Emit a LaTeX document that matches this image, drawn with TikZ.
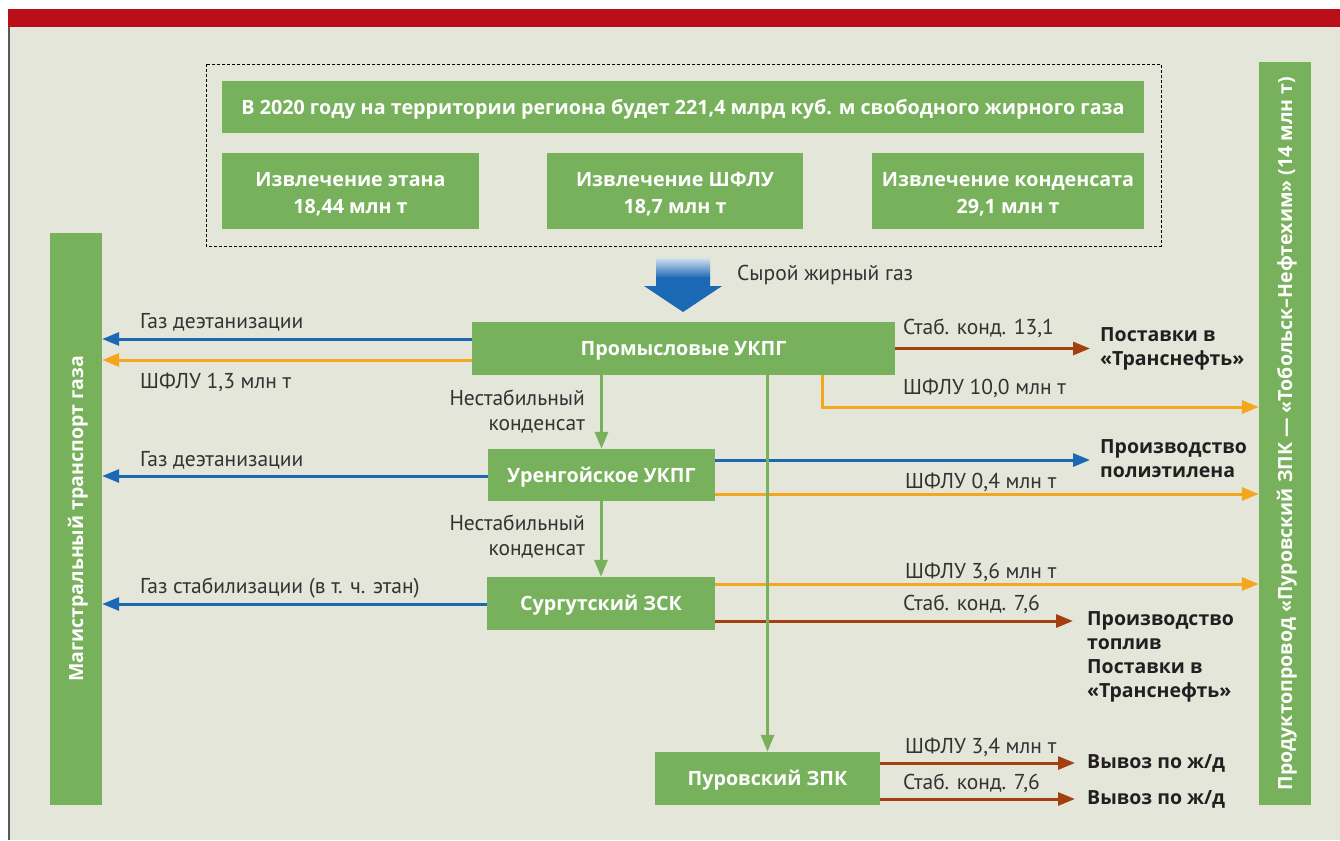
\documentclass[tikz,border=0pt]{standalone}
\usepackage{fontspec}
\setmainfont{Open Sans}
\newfontfamily\labfont{PT Sans}
\usetikzlibrary{arrows.meta}
\definecolor{panel}{HTML}{E3E6D8}
\definecolor{topred}{HTML}{BA0F19}
\definecolor{gbox}{HTML}{78B15B}
\definecolor{ablue}{HTML}{1B68B4}
\definecolor{aorange}{HTML}{F5A61C}
\definecolor{abrown}{HTML}{A2410F}
\definecolor{labtext}{HTML}{333333}
\definecolor{tgtext}{HTML}{231F20}
\newcommand{\dn}[1]{\raisebox{-9pt}[0pt][0pt]{#1}}
\begin{document}
\begin{tikzpicture}[x=1pt,y=-1pt,
 box/.style={fill=gbox,text=white,font=\bfseries\fontsize{19.7}{26.5}\selectfont,inner sep=0pt,align=center},
 single/.style={box,text height=16pt,text depth=2pt},
 bartext/.style={text=white,font=\bfseries\fontsize{19.5}{21}\selectfont,inner sep=0pt,text height=16pt,text depth=2pt},
 lab/.style={text=labtext,font=\labfont\fontsize{21.5}{25}\selectfont,inner sep=0pt},
 tgt/.style={text=tgtext,font=\bfseries\fontsize{19.5}{24}\selectfont,inner sep=0pt,align=left},
 fl/.style={line width=3pt,-{Triangle[length=17pt,width=13pt]}},
 bl/.style={fl,draw=ablue},
 ol/.style={fl,draw=aorange},
 brl/.style={fl,draw=abrown},
 gl/.style={fl,draw=gbox},
]
\fill[white] (0,0) rectangle (1340,840);
\useasboundingbox (0,0) rectangle (1340,840);
\fill[panel] (8,27) rectangle (1340,840);
\fill[topred] (8,9) rectangle (1340,27);
\draw[line width=2pt,black!65] (9,27) -- (9,840);

\draw[line width=0.8pt,dash pattern=on 3pt off 2pt] (206,64) rectangle (1161,246);
\node[single,minimum width=922,minimum height=52] (title) at (683,107)
  {В 2020 году на территории региона будет 221,4 млрд куб. м свободного жирного газа};
\node[box,minimum width=257,minimum height=76] (e1) at (350.5,191) {\dn{Извлечение этана}\\\dn{18,44 млн т}};
\node[box,minimum width=256,minimum height=76] (e2) at (675,191) {\dn{Извлечение ШФЛУ}\\\dn{18,7 млн т}};
\node[box,minimum width=272,minimum height=76] (e3) at (1008,191) {\dn{Извлечение конденсата}\\\dn{29,1 млн т}};

% big arrow
\shade[top color=ablue!20!white,bottom color=ablue] (656,258) rectangle (710,278);
\fill[ablue] (656,277.5) -- (710,277.5) -- (710,286) -- (722,286) -- (683,312) -- (644,286) -- (656,286) -- cycle;
\node[lab,anchor=base west] (raw) at (737,280) {Сырой жирный газ};

% bars
\node[fill=gbox,minimum width=52,minimum height=572,inner sep=0pt] (lbar) at (76,519) {};
\node[bartext,rotate=90] (lbart) at (lbar.center) {Магистральный транспорт газа};
\node[fill=gbox,minimum width=52,minimum height=743,inner sep=0pt] (rbar) at (1285,433.5) {};
\node[bartext,rotate=90] (rbart) at (rbar.center) {Продуктопровод «Пуровский ЗПК — «Тобольск–Нефтехим» (14 млн т)};

% process boxes
\node[single,minimum width=423,minimum height=53] (pu) at (683.5,348.5) {Промысловые УКПГ};
\node[single,minimum width=227,minimum height=52] (ur) at (601.5,475) {Уренгойское УКПГ};
\node[single,minimum width=228,minimum height=53] (su) at (601,603.5) {Сургутский ЗСК};
\node[single,minimum width=225,minimum height=53] (pz) at (767.5,778.5) {Пуровский ЗПК};

% target texts
\node[tgt,anchor=west] (tg1) at (1100,348.5) {Поставки в\\«Транснефть»};
\node[tgt,anchor=west] (tg2) at (1100,458.5) {Производство\\полиэтилена};
\node[tgt,anchor=west] (tg3) at (1087,657) {Производство\\топлив\\Поставки в\\«Транснефть»};
\node[tgt,anchor=west] (tg4) at (1087,763) {Вывоз по ж/д};
\node[tgt,anchor=west] (tg5) at (1087,799) {Вывоз по ж/д};

% left arrows
\draw[bl] (pu.west |- 0,339) -- (lbar.east |- 0,339);
\draw[ol] (pu.west |- 0,360) -- (lbar.east |- 0,360);
\draw[bl] (ur.west |- 0,476) -- (lbar.east |- 0,476);
\draw[bl] (su.west |- 0,604) -- (lbar.east |- 0,604);

% right arrows
\draw[brl,shorten >=10pt] (pu.east) -- (tg1.west |- pu.east);
\draw[ol] (pu.south -| 822,0) |- (rbar.west |- 0,407);
\draw[bl,shorten >=10pt] (ur.east |- 0,460) -- (tg2.west |- 0,460);
\draw[ol] (ur.east |- 0,494) -- (rbar.west |- 0,494);
\draw[ol] (su.east |- 0,584) -- (rbar.west |- 0,584);
\draw[brl,shorten >=14pt] (su.east |- 0,621) -- (tg3.west |- 0,621);
\draw[brl,shorten >=12pt] (pz.east |- tg4.west) -- (tg4.west);
\draw[brl,shorten >=12pt] (pz.east |- tg5.west) -- (tg5.west);

% green flows
\draw[gl] (ur.north |- pu.south) -- (ur.north);
\draw[gl] (su.north |- ur.south) -- (su.north);
\draw[gl] (pz.north |- pu.south) -- (pz.north);

% labels
\node[lab,anchor=base west] (l1) at (140,328) {Газ деэтанизации};
\node[lab,anchor=base west] (l2) at (140,388) {ШФЛУ 1,3 млн т};
\node[lab,anchor=base west] (l3) at (140,466) {Газ деэтанизации};
\node[lab,anchor=base west] (l4) at (140,593) {Газ стабилизации (в т. ч. этан)};
\node[lab,anchor=east,align=right] (n1) at (585,412) {Нестабильный\\конденсат};
\node[lab,anchor=east,align=right] (n2) at (585,537) {Нестабильный\\конденсат};
\node[lab,anchor=base west] (r1) at (903,334) {Стаб. конд. 13,1};
\node[lab,anchor=base west] (r2) at (903,394) {ШФЛУ 10,0 млн т};
\node[lab,anchor=base west] (r3) at (905,488) {ШФЛУ 0,4 млн т};
\node[lab,anchor=base west] (r4) at (905,578) {ШФЛУ 3,6 млн т};
\node[lab,anchor=base west] (r5) at (903,610) {Стаб. конд. 7,6};
\node[lab,anchor=base west] (r6) at (905,753) {ШФЛУ 3,4 млн т};
\node[lab,anchor=base west] (r7) at (903,789) {Стаб. конд. 7,6};
\end{tikzpicture}
\end{document}
